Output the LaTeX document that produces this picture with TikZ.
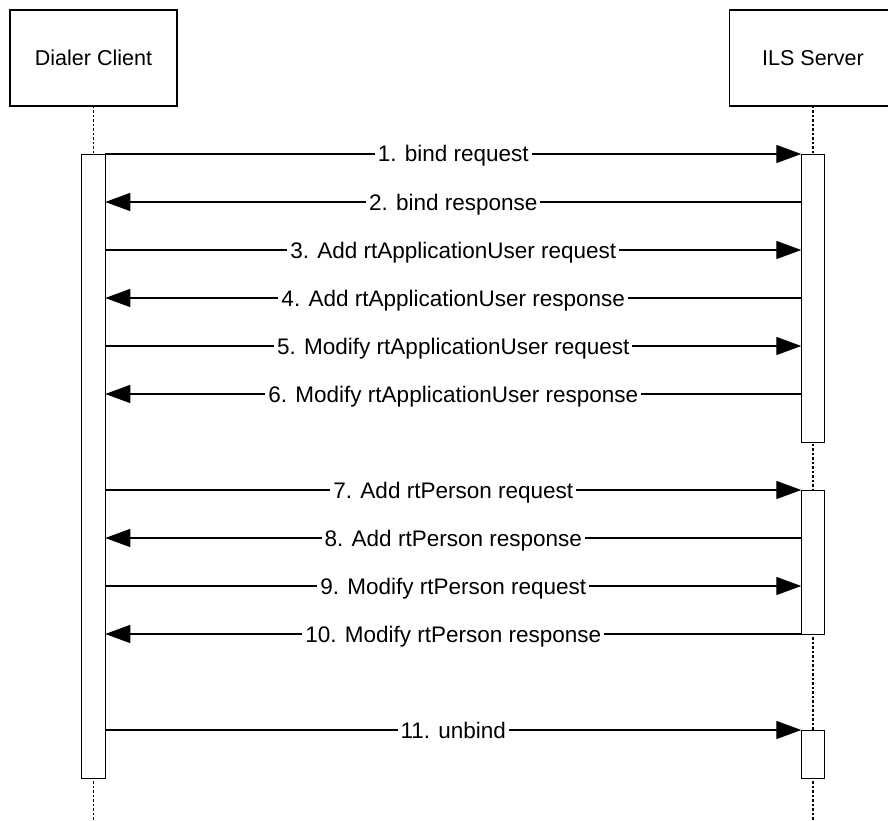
\documentclass[tikz,border=0pt]{standalone}
\usepackage{fontspec}
\setmainfont{Liberation Sans}
\usetikzlibrary{arrows.meta}
\begin{document}
\begin{tikzpicture}[x=1pt,y=-1pt,
  actor/.style={draw, line width=1.4pt, minimum width=167pt, minimum height=96pt, inner sep=0pt, font=\fontsize{21.5}{25}\selectfont},
  life/.style={line width=1.5pt, dash pattern=on 2.5pt off 2pt},
  bar/.style={draw, fill=white, line width=1.4pt, minimum width=23.5pt, inner sep=0pt, anchor=north},
  msg/.style={line width=1.3pt, -{Triangle[length=25pt,width=18pt]}},
  lbl/.style={fill=white, inner xsep=3pt, inner ysep=1pt, anchor=base, yshift=-8pt, font=\fontsize{22.5}{26}\selectfont}]
\useasboundingbox (0,0) rectangle (888,821);
% actors
\node[actor] (cbox) at (93.5,58) {Dialer Client};
\node[actor, anchor=west, minimum width=184pt] (sbox) at (729,58) {};
\node[font=\fontsize{21.5}{25}\selectfont] (stxt) at (813,58) {ILS Server};
% lifelines
\coordinate (ctop) at (93.5,106);
\coordinate (stop) at (813,106);
\coordinate (cend) at (93.5,821);
\coordinate (send) at (813,821);
\draw[life] (ctop) -- (cend);
\draw[life] (stop) -- (send);
% activation bars
\node[bar, minimum height=624pt] (cbar) at (93.5,154) {};
\node[bar, minimum height=288pt] (sbar1) at (813,154) {};
\node[bar, minimum height=144pt] (sbar2) at (813,490) {};
\node[bar, minimum height=48pt] (sbar3) at (813,730) {};
% message end points
\foreach \i/\y in {1/154,2/202,3/250,4/298,5/346,6/394,7/490,8/538,9/586,10/634,11/730}{
  \coordinate (c\i) at (105.25,\y);
  \coordinate (s\i) at (801.25,\y);
}
% messages
\draw[msg] (c1) -- (s1) node[midway, lbl] {1. bind request};
\draw[msg] (s2) -- (c2) node[midway, lbl] {2. bind response};
\draw[msg] (c3) -- (s3) node[midway, lbl] {3. Add rtApplicationUser request};
\draw[msg] (s4) -- (c4) node[midway, lbl] {4. Add rtApplicationUser response};
\draw[msg] (c5) -- (s5) node[midway, lbl] {5. Modify rtApplicationUser request};
\draw[msg] (s6) -- (c6) node[midway, lbl] {6. Modify rtApplicationUser response};
\draw[msg] (c7) -- (s7) node[midway, lbl] {7. Add rtPerson request};
\draw[msg] (s8) -- (c8) node[midway, lbl] {8. Add rtPerson response};
\draw[msg] (c9) -- (s9) node[midway, lbl] {9. Modify rtPerson request};
\draw[msg] (s10) -- (c10) node[midway, lbl] {10. Modify rtPerson response};
\draw[msg] (c11) -- (s11) node[midway, lbl] {11. unbind};
\end{tikzpicture}
\end{document}
